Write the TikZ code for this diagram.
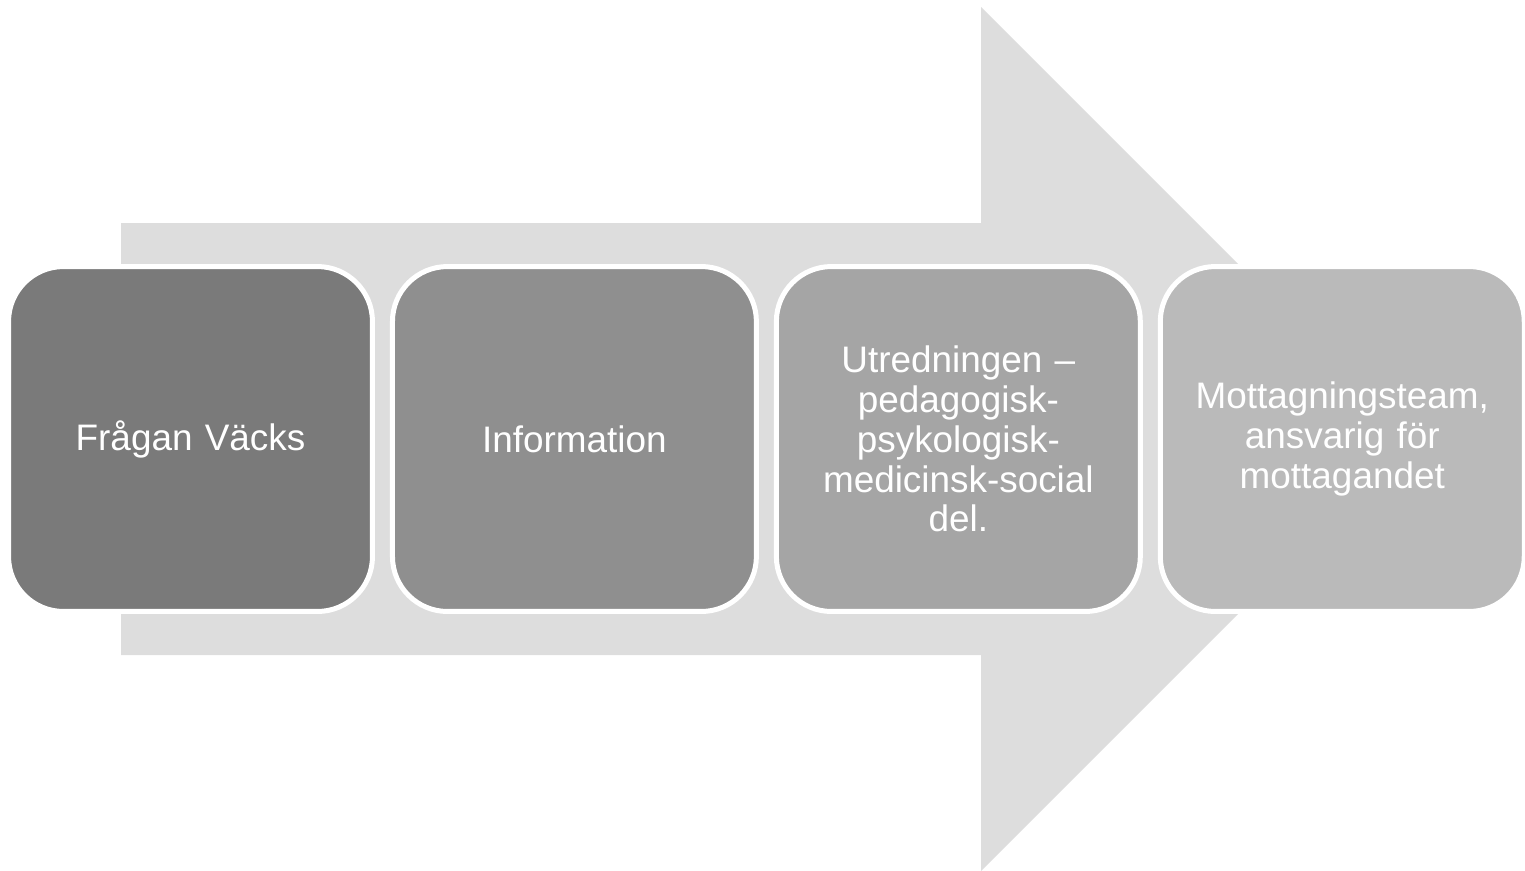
\documentclass[tikz,border=0pt]{standalone}
\usepackage{fontspec}
\setmainfont{Liberation Sans}
\usepackage{tikz}
\usetikzlibrary{positioning}
\definecolor{arrowgray}{HTML}{DDDDDD}
\definecolor{phaseA}{HTML}{7A7A7A}
\definecolor{phaseB}{HTML}{8F8F8F}
\definecolor{phaseC}{HTML}{A5A5A5}
\definecolor{phaseD}{HTML}{BABABA}
\tikzset{
node distance=0.4cm, % gap between two neighbouring boxes
phase/.style={draw=white, line width=0.1cm, rounded corners=1.1cm,
  minimum width=7.28cm, minimum height=6.9cm, inner sep=0pt, outer sep=0pt,
  text=white, align=center, text width=6.4cm,
  font=\fontsize{21}{22.7}\selectfont}, % sets the look of each box
}
\begin{document}
\begin{tikzpicture}[x=0.02cm, y=-0.02cm]
    \useasboundingbox (0,0) rectangle (1525,870);
    % big background arrow
    \fill[arrowgray] (121,223) -- (981,223) -- (981,7) -- (1413,439)
        -- (981,871) -- (981,655) -- (121,655) -- cycle;

    \node[phase, fill=phaseA] (fragan) at (190.5,439) {Frågan Väcks};
    \node[phase, fill=phaseB, right=of fragan] (info) {Information};
    \node[phase, fill=phaseC, right=of info] (utredning)
        {Utredningen –\\pedagogisk-\\psykologisk-\\medicinsk-social\\del.};
    \node[phase, fill=phaseD, right=of utredning] (mottagning)
        {Mottagningsteam,\\ansvarig för\\mottagandet};
\end{tikzpicture}
\end{document}
